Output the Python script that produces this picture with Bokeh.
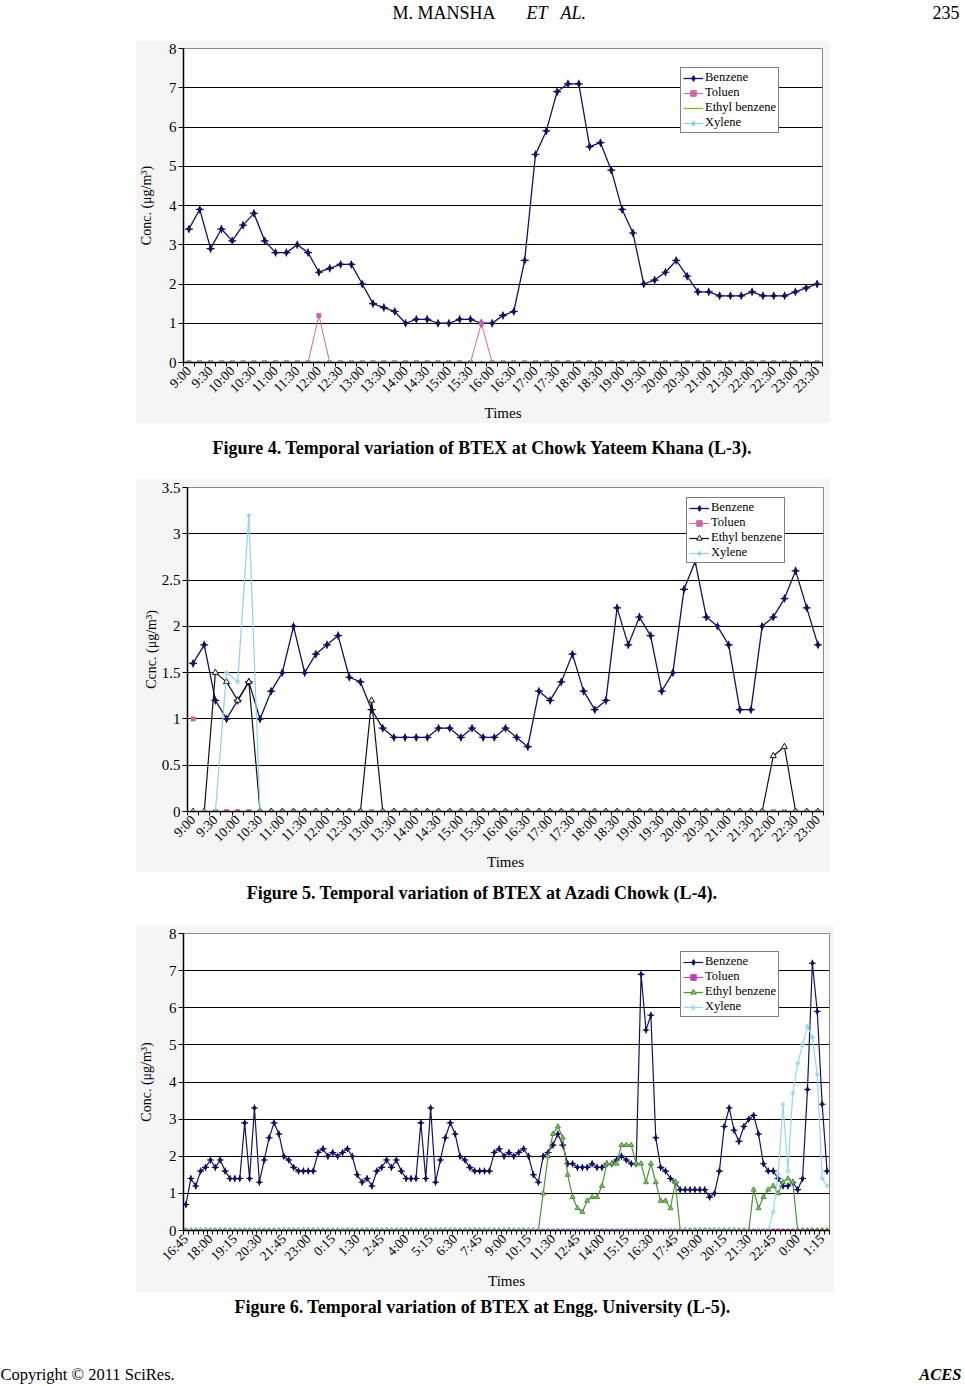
import math
from bokeh.plotting import figure
from bokeh.models import (ColumnDataSource, Range1d, FixedTicker, Legend, LegendItem,
                          NumeralTickFormatter, Spacer)
from bokeh.layouts import column, row
from bokeh.embed import file_html
from bokeh.resources import INLINE
from bokeh.core.properties import value

nan = float("nan")
SERIF = "Liberation Serif"

# ---------------- Figure 4 data (9:00 - 23:30, every 15 min) ----------------
fig4_ticklabels = ["9:00", "9:30", "10:00", "10:30", "11:00", "11:30", "12:00", "12:30",
                   "13:00", "13:30", "14:00", "14:30", "15:00", "15:30", "16:00", "16:30",
                   "17:00", "17:30", "18:00", "18:30", "19:00", "19:30", "20:00", "20:30",
                   "21:00", "21:30", "22:00", "22:30", "23:00", "23:30"]
fig4_benzene = [3.4, 3.9, 2.9, 3.4, 3.1, 3.5, 3.8, 3.1, 2.8, 2.8,
                3.0, 2.8, 2.3, 2.4, 2.5, 2.5, 2.0, 1.5, 1.4, 1.3,
                1.0, 1.1, 1.1, 1.0, 1.0, 1.1, 1.1, 1.0, 1.0, 1.2,
                1.3, 2.6, 5.3, 5.9, 6.9, 7.1, 7.1, 5.5, 5.6, 4.9,
                3.9, 3.3, 2.0, 2.1, 2.3, 2.6, 2.2, 1.8, 1.8, 1.7,
                1.7, 1.7, 1.8, 1.7, 1.7, 1.7, 1.8, 1.9, 2.0]
fig4_toluen = [0, 0, 0, 0, 0, 0, 0, 0, 0, 0,
               0, 0, 1.2, 0, 0, 0, 0, 0, 0, 0,
               0, 0, 0, 0, 0, 0, 0, 1.0, 0, 0,
               0, 0, 0, 0, 0, 0, 0, 0, 0, 0,
               0, 0, 0, 0, 0, 0, 0, 0, 0, 0,
               0, 0, 0, 0, 0, 0, 0, 0, 0]
fig4_ethyl = [0, 0, 0, 0, 0, 0, 0, 0, 0, 0,
              0, 0, 0, 0, 0, 0, 0, 0, 0, 0,
              0, 0, 0, 0, 0, 0, 0, 0, 0, 0,
              0, 0, 0, 0, 0, 0, 0, 0, 0, 0,
              0, 0, 0, 0, 0, 0, 0, 0, 0, 0,
              0, 0, 0, 0, 0, 0, 0, 0, 0]
fig4_xylene = [0, 0, 0, 0, 0, 0, 0, 0, 0, 0,
               0, 0, 0, 0, 0, 0, 0, 0, 0, 0,
               0, 0, 0, 0, 0, 0, 0, 0, 0, 0,
               0, 0, 0, 0, 0, 0, 0, 0, 0, 0,
               0, 0, 0, 0, 0, 0, 0, 0, 0, 0,
               0, 0, 0, 0, 0, 0, 0, 0, 0]

# ---------------- Figure 5 data (9:00 - 23:00, every 15 min) ----------------
fig5_ticklabels = ["9:00", "9:30", "10:00", "10:30", "11:00", "11:30", "12:00", "12:30",
                   "13:00", "13:30", "14:00", "14:30", "15:00", "15:30", "16:00", "16:30",
                   "17:00", "17:30", "18:00", "18:30", "19:00", "19:30", "20:00", "20:30",
                   "21:00", "21:30", "22:00", "22:30", "23:00"]
fig5_benzene = [1.6, 1.8, 1.2, 1.0, 1.2, 1.4, 1.0, 1.3, 1.5, 2.0,
                1.5, 1.7, 1.8, 1.9, 1.45, 1.4, 1.1, 0.9, 0.8, 0.8,
                0.8, 0.8, 0.9, 0.9, 0.8, 0.9, 0.8, 0.8, 0.9, 0.8,
                0.7, 1.3, 1.2, 1.4, 1.7, 1.3, 1.1, 1.2, 2.2, 1.8,
                2.1, 1.9, 1.3, 1.5, 2.4, 2.7, 2.1, 2.0, 1.8, 1.1,
                1.1, 2.0, 2.1, 2.3, 2.6, 2.2, 1.8]
fig5_toluen = [1.0, nan, 0, 0, 0, 0, 0, 0, 0, 0,
               0, 0, 0, 0, 0, 0, 0, 0, 0, 0,
               0, 0, 0, 0, 0, 0, 0, 0, 0, 0,
               0, 0, 0, 0, 0, 0, 0, 0, 0, 0,
               0, 0, 0, 0, 0, 0, 0, 0, 0, 0,
               0, 0, 0, 0, 0, 0, 0]
fig5_ethyl = [0, 0, 1.5, 1.4, 1.2, 1.4, 0, 0, 0, 0,
              0, 0, 0, 0, 0, 0, 1.2, 0, 0, 0,
              0, 0, 0, 0, 0, 0, 0, 0, 0, 0,
              0, 0, 0, 0, 0, 0, 0, 0, 0, 0,
              0, 0, 0, 0, 0, 0, 0, 0, 0, 0,
              0, 0, 0.6, 0.7, 0, 0, 0]
fig5_xylene = [0, 0, 0, 1.5, 1.4, 3.2, 0, 0, 0, 0,
               0, 0, 0, 0, 0, 0, 0, 0, 0, 0,
               0, 0, 0, 0, 0, 0, 0, 0, 0, 0,
               0, 0, 0, 0, 0, 0, 0, 0, 0, 0,
               0, 0, 0, 0, 0, 0, 0, 0, 0, 0,
               0, 0, 0, 0, 0, 0, 0]

# ---------------- Figure 6 data (16:45 - 1:30 of the third day, every 15 min) ----------------
fig6_ticklabels = ["16:45", "18:00", "19:15", "20:30", "21:45", "23:00", "0:15", "1:30",
                   "2:45", "4:00", "5:15", "6:30", "7:45", "9:00", "10:15", "11:30",
                   "12:45", "14:00", "15:15", "16:30", "17:45", "19:00", "20:15", "21:30",
                   "22:45", "0:00", "1:15"]
fig6_benzene = [0.7, 1.4, 1.2, 1.6, 1.7, 1.9, 1.7, 1.9, 1.6, 1.4,
                1.4, 1.4, 2.9, 1.4, 3.3, 1.3, 1.9, 2.5, 2.9, 2.6,
                2.0, 1.9, 1.7, 1.6, 1.6, 1.6, 1.6, 2.1, 2.2, 2.0,
                2.1, 2.0, 2.1, 2.2, 2.0, 1.5, 1.3, 1.4, 1.2, 1.6,
                1.7, 1.9, 1.7, 1.9, 1.6, 1.4, 1.4, 1.4, 2.9, 1.4,
                3.3, 1.3, 1.9, 2.5, 2.9, 2.6, 2.0, 1.9, 1.7, 1.6,
                1.6, 1.6, 1.6, 2.1, 2.2, 2.0, 2.1, 2.0, 2.1, 2.2,
                2.0, 1.5, 1.3, 2.0, 2.1, 2.3, 2.6, 2.3, 1.8, 1.8,
                1.7, 1.7, 1.7, 1.8, 1.7, 1.7, 1.8, 1.8, 1.9, 2.0,
                1.9, 1.8, 1.8, 6.9, 5.4, 5.8, 2.5, 1.7, 1.6, 1.4,
                1.3, 1.1, 1.1, 1.1, 1.1, 1.1, 1.1, 0.9, 1.0, 1.6,
                2.8, 3.3, 2.7, 2.4, 2.8, 3.0, 3.1, 2.6, 1.8, 1.6,
                1.6, 1.4, 1.2, 1.2, 1.3, 1.1, 1.4, 3.8, 7.2, 5.9,
                3.4, 1.6]
fig6_toluen = [0, 0, 0, 0, 0, 0, 0, 0, 0, 0,
               0, 0, 0, 0, 0, 0, 0, 0, 0, 0,
               0, 0, 0, 0, 0, 0, 0, 0, 0, 0,
               0, 0, 0, 0, 0, 0, 0, 0, 0, 0,
               0, 0, 0, 0, 0, 0, 0, 0, 0, 0,
               0, 0, 0, 0, 0, 0, 0, 0, 0, 0,
               0, 0, 0, 0, 0, 0, 0, 0, 0, 0,
               0, 0, 0, 0, 0, 0, 0, 0, 0, 0,
               0, 0, 0, 0, 0, 0, 0, 0, 0, 0,
               0, 0, 0, 0, 0, 0, 0, 0, 0, 0,
               0, 0, 0, 0, 0, 0, 0, 0, 0, 0,
               0, 0, 0, 0, 0, 0, 0, 0, 0, 0,
               0, 0, 0, 0, 0, 0, 0, 0, 0, 0,
               0, 0]
fig6_ethyl = [0, 0, 0, 0, 0, 0, 0, 0, 0, 0,
              0, 0, 0, 0, 0, 0, 0, 0, 0, 0,
              0, 0, 0, 0, 0, 0, 0, 0, 0, 0,
              0, 0, 0, 0, 0, 0, 0, 0, 0, 0,
              0, 0, 0, 0, 0, 0, 0, 0, 0, 0,
              0, 0, 0, 0, 0, 0, 0, 0, 0, 0,
              0, 0, 0, 0, 0, 0, 0, 0, 0, 0,
              0, 0, 0, 1.0, 2.0, 2.6, 2.8, 2.5, 1.5, 0.9,
              0.6, 0.5, 0.8, 0.9, 0.9, 1.2, 1.8, 1.8, 1.8, 2.3,
              2.3, 2.3, 1.8, 1.8, 1.3, 1.8, 1.3, 0.8, 0.8, 0.6,
              1.3, 0, 0, 0, 0, 0, 0, 0, 0, 0,
              0, 0, 0, 0, 0, 0, 1.1, 0.6, 0.9, 1.1,
              1.2, 1.0, 1.3, 1.4, 1.3, 0, 0, 0, 0, 0,
              0, 0]
fig6_xylene = [0, 0, 0, 0, 0, 0, 0, 0, 0, 0,
               0, 0, 0, 0, 0, 0, 0, 0, 0, 0,
               0, 0, 0, 0, 0, 0, 0, 0, 0, 0,
               0, 0, 0, 0, 0, 0, 0, 0, 0, 0,
               0, 0, 0, 0, 0, 0, 0, 0, 0, 0,
               0, 0, 0, 0, 0, 0, 0, 0, 0, 0,
               0, 0, 0, 0, 0, 0, 0, 0, 0, 0,
               0, 0, 0, 0, 0, 0, 0, 0, 0, 0,
               0, 0, 0, 0, 0, 0, 0, 0, 0, 0,
               0, 0, 0, 0, 0, 0, 0, 0, 0, 0,
               0, 0, 0, 0, 0, 0, 0, 0, 0, 0,
               0, 0, 0, 0, 0, 0, 0, 0, 0, 0,
               0.5, 1.5, 3.4, 1.6, 3.7, 4.5, 5.0, 5.5, 5.2, 4.2,
               1.4, 1.2]

series_names = ["Benzene", "Toluen", "Ethyl benzene", "Xylene"]

header_author = "M. MANSHA"
header_etal = ["ET", "AL."]
page_number = "235"
captions = ["Figure 4. Temporal variation of BTEX at Chowk Yateem Khana (L-3).",
            "Figure 5. Temporal variation of BTEX at Azadi Chowk (L-4).",
            "Figure 6. Temporal variation of BTEX at Engg. University (L-5)."]
footer_left = "Copyright \u00a9 2011 SciRes."
footer_right = "ACES"

PAGE_W = 965
AREA = "#f5f5f5"
NAVY = "#12125e"


def build_chart(width, height, borders, ticklabels, step, data, styles, y_max, y_ticks,
                ylabel, ylabel_standoff, legend_loc):
    n = len(data[0])
    src = ColumnDataSource(dict(x=list(range(n)), s0=data[0], s1=data[1], s2=data[2], s3=data[3]))
    p = figure(width=width, height=height, output_backend="svg", toolbar_location=None,
               x_range=Range1d(-0.5, n - 0.5), y_range=Range1d(0, y_max),
               min_border_left=borders[0], min_border_right=borders[1],
               min_border_top=borders[2], min_border_bottom=borders[3],
               background_fill_color="white", border_fill_color=AREA,
               outline_line_color="#8a8a8a", outline_line_width=1)
    items = []
    for k, st in enumerate(styles):
        col = "s%d" % k
        rends = [p.line("x", col, source=src, line_color=st["color"], line_width=st["lw"])]
        for (mk, size, fill, lc, lw) in st["markers"]:
            rends.append(p.scatter("x", col, source=src, marker=mk, size=size,
                                   fill_color=fill, line_color=lc, line_width=lw))
        items.append(LegendItem(label=series_names[k], renderers=rends))

    xa = p.xaxis[0]
    xa.ticker = FixedTicker(ticks=[k * step for k in range(len(ticklabels))],
                            minor_ticks=[i - 0.5 for i in range(n + 1)])
    xa.major_label_overrides = {k * step: lab for k, lab in enumerate(ticklabels)}
    xa.major_label_orientation = math.pi / 4
    xa.major_tick_out = 0
    xa.major_tick_in = 0
    xa.minor_tick_out = 4
    xa.minor_tick_in = 0
    xa.minor_tick_line_color = "black"
    xa.axis_line_color = "black"
    xa.axis_line_width = 1.5
    xa.major_label_text_font = SERIF
    xa.major_label_text_font_size = "13.5px"
    xa.major_label_text_color = "black"
    xa.major_label_standoff = 2
    xa.axis_label = "Times"
    xa.axis_label_text_font = SERIF
    xa.axis_label_text_font_style = "normal"
    xa.axis_label_text_font_size = "15px"
    xa.axis_label_text_color = "black"
    xa.axis_label_standoff = 1

    ya = p.yaxis[0]
    ya.ticker = FixedTicker(ticks=y_ticks)
    ya.formatter = NumeralTickFormatter(format="0.[0]")
    ya.major_tick_out = 5
    ya.major_tick_in = 0
    ya.minor_tick_out = 0
    ya.minor_tick_in = 0
    ya.axis_line_color = "black"
    ya.axis_line_width = 1.5
    ya.major_tick_line_color = "black"
    ya.major_label_text_font = SERIF
    ya.major_label_text_font_size = "15px"
    ya.major_label_text_color = "black"
    ya.major_label_standoff = 2
    ya.axis_label = ylabel
    ya.axis_label_text_font = SERIF
    ya.axis_label_text_font_style = "normal"
    ya.axis_label_text_font_size = "14px"
    ya.axis_label_text_color = "black"
    ya.axis_label_standoff = ylabel_standoff

    p.xgrid.visible = False
    p.ygrid.ticker = FixedTicker(ticks=y_ticks[1:-1])
    p.ygrid.grid_line_color = "black"
    p.ygrid.grid_line_width = 1.2

    legend = Legend(items=items, location=legend_loc, orientation="vertical",
                    border_line_color="black", border_line_width=1.5,
                    background_fill_color="white", background_fill_alpha=1.0,
                    label_text_font=SERIF, label_text_font_size="12.5px",
                    label_text_color="black",
                    label_height=14, glyph_height=14, glyph_width=20,
                    label_standoff=2, spacing=0, padding=2, margin=0)
    p.add_layout(legend)
    return p


def text_fig(height, items):
    p = figure(width=PAGE_W, height=height, output_backend="svg", toolbar_location=None,
               x_range=Range1d(0, PAGE_W), y_range=Range1d(height, 0),
               min_border=0, outline_line_color=None,
               x_axis_location=None, y_axis_location=None,
               background_fill_color="white", border_fill_color="white")
    p.xgrid.visible = False
    p.ygrid.visible = False
    for (x, y, txt, size, style, align) in items:
        p.text(x=[x], y=[y], text=[txt], text_font=value(SERIF), text_font_size=size,
               text_font_style=style, text_align=align, text_baseline="middle",
               text_color="black")
    return p


# series styles per chart
styles4 = [
    dict(color=NAVY, lw=1.3, markers=[("diamond", 6, NAVY, NAVY, 1), ("cross", 8, NAVY, NAVY, 1.2)]),
    dict(color="#cc66aa", lw=1, markers=[("square", 4, "#cc66aa", "#cc66aa", 1)]),
    dict(color="#88bb22", lw=1.3, markers=[]),
    dict(color="#7fcfe6", lw=1, markers=[("asterisk", 5, "#7fcfe6", "#7fcfe6", 1)]),
]
styles5 = [
    dict(color=NAVY, lw=1.3, markers=[("diamond", 6, NAVY, NAVY, 1), ("cross", 8, NAVY, NAVY, 1.2)]),
    dict(color="#cc66aa", lw=1, markers=[("square", 4, "#cc66aa", "#cc66aa", 1)]),
    dict(color="#111111", lw=1.2, markers=[("triangle", 6, "white", "#111111", 1)]),
    dict(color="#8fd3e6", lw=1.2, markers=[("asterisk", 5, "#8fd3e6", "#8fd3e6", 1)]),
]
styles6 = [
    dict(color=NAVY, lw=1.2, markers=[("diamond", 5, NAVY, NAVY, 1), ("cross", 7, NAVY, NAVY, 1.1)]),
    dict(color="#c040b8", lw=1, markers=[("square", 3, "#c040b8", "#c040b8", 1)]),
    dict(color="#4f9038", lw=1.2, markers=[("triangle", 5, "#7fbf6f", "#4f9038", 1)]),
    dict(color="#99d6ea", lw=1.2, markers=[("asterisk", 5, "#99d6ea", "#99d6ea", 1)]),
]

fig4 = build_chart(695, 383, (48, 8, 8, 61), fig4_ticklabels, 2,
                   [fig4_benzene, fig4_toluen, fig4_ethyl, fig4_xylene], styles4,
                   8, [0, 1, 2, 3, 4, 5, 6, 7, 8], "Conc. (\u03bcg/m\u00b3)", 12, (497, 229))
fig5 = build_chart(695, 394, (52, 7, 9, 59), fig5_ticklabels, 2,
                   [fig5_benzene, fig5_toluen, fig5_ethyl, fig5_xylene], styles5,
                   3.5, [0, 0.5, 1, 1.5, 2, 2.5, 3, 3.5], "Ccnc. (\u03bcg/m\u00b3)", 0, (499, 248))
fig6 = build_chart(699, 367, (48, 5, 8, 62), fig6_ticklabels, 5,
                   [fig6_benzene, fig6_toluen, fig6_ethyl, fig6_xylene], styles6,
                   8, [0, 1, 2, 3, 4, 5, 6, 7, 8], "Conc. (\u03bcg/m\u00b3)", 12, (497, 213))

header = text_fig(40, [
    (392, 12, header_author, "18px", "normal", "left"),
    (526, 12, header_etal[0], "18px", "italic", "left"),
    (560, 12, header_etal[1], "18px", "italic", "left"),
    (959, 12, page_number, "18px", "normal", "right"),
])
cap1 = text_fig(55, [(482, 24, captions[0], "18px", "bold", "center")])
cap2 = text_fig(53, [(482, 20, captions[1], "18px", "bold", "center")])
bottom = text_fig(94, [
    (482, 14, captions[2], "18px", "bold", "center"),
    (0, 82, footer_left, "16.5px", "normal", "left"),
    (961, 82, footer_right, "16.5px", "bold italic", "right"),
])

layout = column(
    header,
    row(Spacer(width=135, height=10), fig4),
    cap1,
    row(Spacer(width=135, height=10), fig5),
    cap2,
    row(Spacer(width=135, height=10), fig6),
    bottom,
)

open("out.html", "w").write(file_html(layout, INLINE))
